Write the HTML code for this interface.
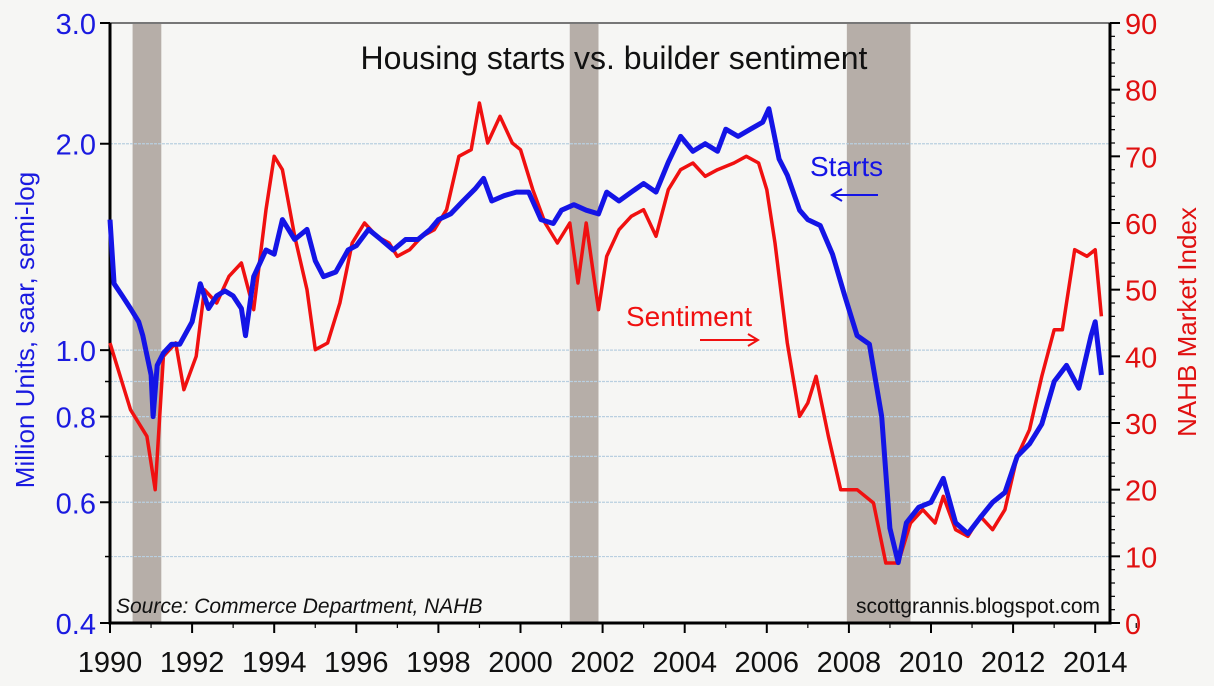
<!DOCTYPE html>
<html><head><meta charset="utf-8"><style>
body{margin:0;background:#f6f6f4;}
svg{display:block;font-family:"Liberation Sans",sans-serif;}
</style></head><body>
<svg id="c" width="1214" height="686"></svg>
<script>
const startsX=[1990.0,1990.1,1990.3,1990.5,1990.7,1990.8,1991.0,1991.05,1991.15,1991.3,1991.5,1991.7,1992.0,1992.2,1992.4,1992.6,1992.8,1993.0,1993.2,1993.3,1993.5,1993.8,1994.0,1994.2,1994.5,1994.8,1995.0,1995.2,1995.5,1995.8,1996.0,1996.3,1996.6,1996.9,1997.2,1997.5,1997.8,1998.0,1998.3,1998.6,1998.9,1999.1,1999.3,1999.6,1999.9,2000.2,2000.5,2000.8,2001.0,2001.3,2001.6,2001.9,2002.1,2002.4,2002.7,2003.0,2003.3,2003.6,2003.9,2004.2,2004.5,2004.8,2005.0,2005.3,2005.6,2005.9,2006.05,2006.3,2006.5,2006.8,2007.0,2007.3,2007.6,2007.9,2008.2,2008.5,2008.8,2009.0,2009.2,2009.4,2009.7,2010.0,2010.3,2010.6,2010.9,2011.2,2011.5,2011.8,2012.1,2012.4,2012.7,2013.0,2013.3,2013.6,2013.9,2014.0,2014.15];
const startsV=[1.55,1.25,1.2,1.15,1.1,1.05,0.92,0.80,0.95,0.99,1.02,1.02,1.1,1.25,1.15,1.2,1.22,1.2,1.15,1.05,1.28,1.4,1.38,1.55,1.45,1.5,1.35,1.28,1.3,1.4,1.42,1.5,1.45,1.4,1.45,1.45,1.5,1.55,1.58,1.65,1.72,1.78,1.65,1.68,1.7,1.7,1.55,1.53,1.6,1.63,1.6,1.58,1.7,1.65,1.7,1.75,1.7,1.88,2.05,1.95,2.0,1.95,2.1,2.05,2.1,2.15,2.25,1.9,1.8,1.6,1.55,1.52,1.38,1.2,1.05,1.02,0.8,0.55,0.49,0.56,0.59,0.6,0.65,0.56,0.54,0.57,0.6,0.62,0.7,0.73,0.78,0.9,0.95,0.88,1.05,1.1,0.92];
const sentX=[1990.0,1990.2,1990.5,1990.9,1991.1,1991.3,1991.6,1991.8,1992.1,1992.3,1992.6,1992.9,1993.2,1993.5,1993.8,1994.0,1994.2,1994.5,1994.8,1995.0,1995.3,1995.6,1995.9,1996.2,1996.5,1996.8,1997.0,1997.3,1997.6,1997.9,1998.2,1998.5,1998.8,1999.0,1999.2,1999.5,1999.8,2000.0,2000.3,2000.6,2000.9,2001.2,2001.4,2001.6,2001.9,2002.1,2002.4,2002.7,2003.0,2003.3,2003.6,2003.9,2004.2,2004.5,2004.8,2005.2,2005.5,2005.8,2006.0,2006.2,2006.5,2006.8,2007.0,2007.2,2007.5,2007.8,2008.2,2008.6,2008.9,2009.2,2009.5,2009.8,2010.1,2010.3,2010.6,2010.9,2011.2,2011.5,2011.8,2012.1,2012.4,2012.7,2013.0,2013.2,2013.5,2013.8,2014.0,2014.15];
const sentV=[42,38,32,28,20,40,42,35,40,50,48,52,54,47,62,70,68,58,50,41,42,48,57,60,58,57,55,56,58,59,62,70,71,78,72,76,72,71,65,60,57,60,51,60,47,55,59,61,62,58,65,68,69,67,68,69,70,69,65,57,42,31,33,37,28,20,20,18,9,9,15,17,15,19,14,13,16,14,17,25,29,37,44,44,56,55,56,46];
const recessions=[[1990.55,1991.25],[2001.2,2001.9],[2007.95,2009.5]];
const leftTicks=[3.0,2.0,1.0,0.8,0.6,0.4];
const leftGrid=[2.0,1.0,0.9,0.8,0.7,0.6,0.5];
const rightTicks=[0,10,20,30,40,50,60,70,80,90];
const yearTicks=[1990,1992,1994,1996,1998,2000,2002,2004,2006,2008,2010,2012,2014];

const L=110,R=1110,T=23,B=623;
const X=y=>L+(y-1990)*41.05;
const YL=v=>T+Math.log(3/v)/Math.log(3/0.4)*(B-T);
const YR=v=>B-v/90*(B-T);
const svg=document.getElementById('c');const NS='http://www.w3.org/2000/svg';
function mk(t,a,txt){const e=document.createElementNS(NS,t);for(const k in a)e.setAttribute(k,a[k]);if(txt!==undefined)e.textContent=txt;svg.appendChild(e);return e;}
recessions.forEach(r=>{const e=mk('rect',{x:X(r[0]),y:T,width:X(r[1])-X(r[0]),height:B-T,fill:'#b6aea8'});

});
leftGrid.forEach(v=>{const e=mk('line',{x1:L,x2:R,y1:YL(v),y2:YL(v),stroke:'#b9cfe0','stroke-width':1.2,'stroke-dasharray':'3,1'});

});
let e=mk('path',{d:'M'+L+' '+T+'H'+R,stroke:'#777','stroke-width':2,fill:'none'});
e=mk('path',{d:'M'+L+' '+T+'V'+B+'H'+R+'V'+T,stroke:'#000','stroke-width':3,fill:'none'});


leftTicks.forEach(v=>{mk('line',{x1:L-10,x2:L,y1:YL(v),y2:YL(v),stroke:'#000','stroke-width':2});
const t=mk('text',{x:L-14,y:YL(v)+11,'text-anchor':'end','font-size':29,fill:'#1a1ae0'},v.toFixed(1));

});
[0.9,0.7,0.5].forEach(v=>mk('line',{x1:L-5,x2:L,y1:YL(v),y2:YL(v),stroke:'#000','stroke-width':1.5}));
rightTicks.forEach(v=>{mk('line',{x1:R,x2:R+10,y1:YR(v),y2:YR(v),stroke:'#000','stroke-width':2});
const t=mk('text',{x:R+15,y:YR(v)+11,'font-size':29,fill:'#e01010'},v);

});
for(let v=2;v<90;v+=2)if(v%10)mk('line',{x1:R,x2:R+5,y1:YR(v),y2:YR(v),stroke:'#000','stroke-width':1.2});
yearTicks.forEach(y=>{mk('line',{x1:X(y),x2:X(y),y1:B,y2:B+10,stroke:'#000','stroke-width':2});
mk('line',{x1:X(y+1),x2:X(y+1),y1:B,y2:B+5,stroke:'#000','stroke-width':1.2});
const t=mk('text',{x:X(y),y:672,'text-anchor':'middle','font-size':29,fill:'#111'},y);

});
e=mk('path',{d:sentX.map((x,i)=>(i?'L':'M')+X(x).toFixed(1)+' '+YR(sentV[i]).toFixed(1)).join(''),stroke:'#f01010','stroke-width':3.5,fill:'none','stroke-linejoin':'round'});


e=mk('path',{d:startsX.map((x,i)=>(i?'L':'M')+X(x).toFixed(1)+' '+YL(startsV[i]).toFixed(1)).join(''),stroke:'#1414e6','stroke-width':5,fill:'none','stroke-linejoin':'round'});


</script>
<script>
const s=document.getElementById('c');const N='http://www.w3.org/2000/svg';
function tx(a,txt,name){const e=document.createElementNS(N,'text');for(const k in a)e.setAttribute(k,a[k]);e.textContent=txt;


s.appendChild(e);return e;}
function ln(a){const e=document.createElementNS(N,'path');for(const k in a)e.setAttribute(k,a[k]);s.appendChild(e);return e;}
tx({x:614,y:69,'text-anchor':'middle','font-size':32,fill:'#111'},'Housing starts vs. builder sentiment','chart-title');
tx({x:0,y:0,transform:'translate(34,330) rotate(-90)','text-anchor':'middle','font-size':26,fill:'#1a1ae0'},'Million Units, saar, semi-log','left-axis-title');
tx({x:0,y:0,transform:'translate(1196,322) rotate(-90)','text-anchor':'middle','font-size':26,fill:'#e01010'},'NAHB Market Index','right-axis-title');
tx({x:810,y:176,'font-size':28,fill:'#1414e6'},'Starts','starts-label');
tx({x:626,y:326,'font-size':28,fill:'#f01010'},'Sentiment','sentiment-label');
tx({x:116,y:613,'font-size':21,'font-style':'italic',fill:'#111'},'Source:  Commerce Department, NAHB','source-note');
tx({x:1100,y:613,'text-anchor':'end','font-size':21,fill:'#111'},'scottgrannis.blogspot.com','credit');
ln({d:'M878 195H832M842 189L832 195L842 201',stroke:'#1414e6','stroke-width':2,fill:'none'});
ln({d:'M700 340H758M748 334L758 340L748 346',stroke:'#f01010','stroke-width':2,fill:'none'});
</script>
</body></html>
